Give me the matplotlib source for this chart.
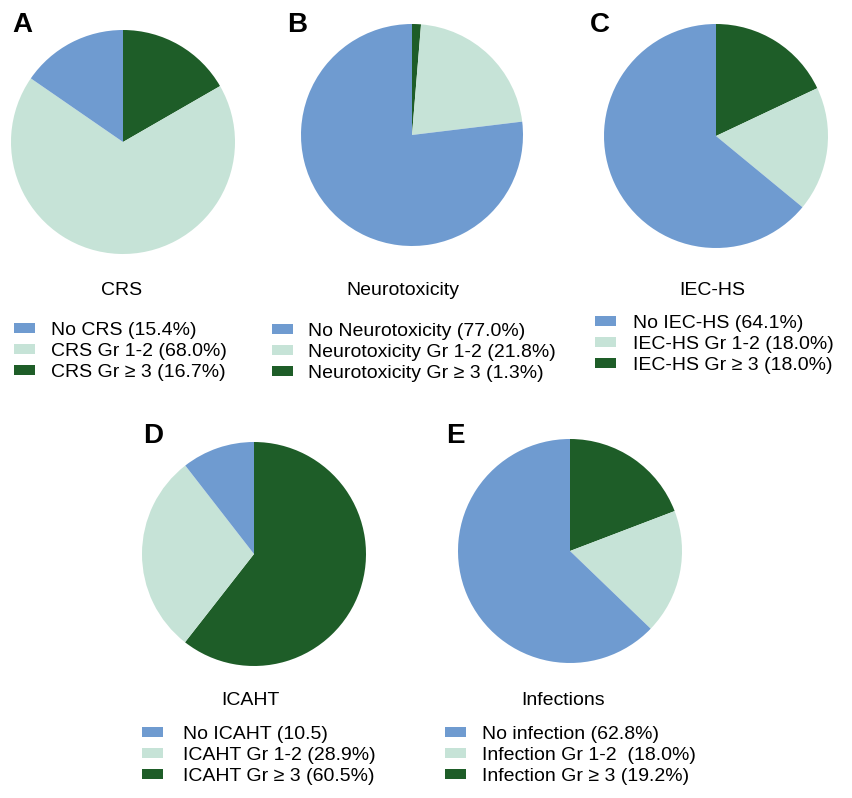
import matplotlib
matplotlib.use("Agg")
import matplotlib.pyplot as plt
from matplotlib.patches import Rectangle

plt.rcParams['font.family'] = ['Liberation Sans', 'DejaVu Sans']

# data: [none, grade 1-2, grade >= 3]
crs = [15.4, 68.0, 16.7]
neuro = [77.0, 21.8, 1.3]
iechs = [64.1, 18.0, 18.0]
icaht = [10.5, 28.9, 60.5]
infect = [62.8, 18.0, 19.2]

crs_labels = ['No CRS (15.4%)', 'CRS Gr 1-2 (68.0%)', 'CRS Gr \u2265 3 (16.7%)']
neuro_labels = ['No Neurotoxicity (77.0%)', 'Neurotoxicity Gr 1-2 (21.8%)', 'Neurotoxicity Gr \u2265 3 (1.3%)']
iechs_labels = ['No IEC-HS (64.1%)', 'IEC-HS Gr 1-2 (18.0%)', 'IEC-HS Gr \u2265 3 (18.0%)']
icaht_labels = ['No ICAHT (10.5)', 'ICAHT Gr 1-2 (28.9%)', 'ICAHT Gr \u2265 3 (60.5%)']
infect_labels = ['No infection (62.8%)', 'Infection Gr 1-2  (18.0%)', 'Infection Gr \u2265 3 (19.2%)']

titles = ['CRS', 'Neurotoxicity', 'IEC-HS', 'ICAHT', 'Infections']
letters = ['A', 'B', 'C', 'D', 'E']

colors = ['#6f9bd0', '#c6e3d7', '#1e5d28']

W, H = 852, 798
fig = plt.figure(figsize=(W / 100, H / 100), dpi=100)

def fx(x):
    return x / W

def fy(y):
    return 1 - y / H

# pixel layout per panel: pie center, radius, letter baseline, title baseline,
# legend rect x, text x, first row center y
panels = [
    dict(vals=crs, labs=crs_labels, c=(123, 142), r=112, let=(22, 32), tit=(122, 295), rx=14, tx=51, ry=328),
    dict(vals=neuro, labs=neuro_labels, c=(412, 135), r=111, let=(297, 32), tit=(403, 295), rx=272, tx=308, ry=329),
    dict(vals=iechs, labs=iechs_labels, c=(716, 136), r=112, let=(600, 32), tit=(712, 295), rx=595, tx=633, ry=321),
    dict(vals=icaht, labs=icaht_labels, c=(254, 554), r=112, let=(153, 443), tit=(250, 705), rx=142, tx=183, ry=732),
    dict(vals=infect, labs=infect_labels, c=(570, 551), r=112, let=(455, 443), tit=(563, 705), rx=445, tx=482, ry=732),
]

for i, p in enumerate(panels):
    cx, cy = p['c']
    r = p['r']
    ax = fig.add_axes([fx(cx - r), fy(cy + r), 2 * r / W, 2 * r / H])
    ax.pie(p['vals'][::-1], colors=colors[::-1], startangle=90, counterclock=False,
           radius=1, wedgeprops=dict(linewidth=0))
    ax.set_xlim(-1, 1)
    ax.set_ylim(-1, 1)
    ax.set_aspect('equal')
    ax.axis('off')

    fig.text(fx(p['let'][0]), fy(p['let'][1]), letters[i], fontsize=20,
             fontweight='bold', ha='center', va='baseline')
    fig.text(fx(p['tit'][0]), fy(p['tit'][1]), titles[i], fontsize=14,
             ha='center', va='baseline')

    for j, lab in enumerate(p['labs']):
        y = p['ry'] + j * 20.8
        fig.patches.append(Rectangle((fx(p['rx']), fy(y + 5)), 21 / W, 10 / H,
                                     transform=fig.transFigure, color=colors[j],
                                     linewidth=0))
        fig.text(fx(p['tx']), fy(y + 7), lab, fontsize=14, ha='left', va='baseline')

fig.savefig('out.png', dpi=100)
